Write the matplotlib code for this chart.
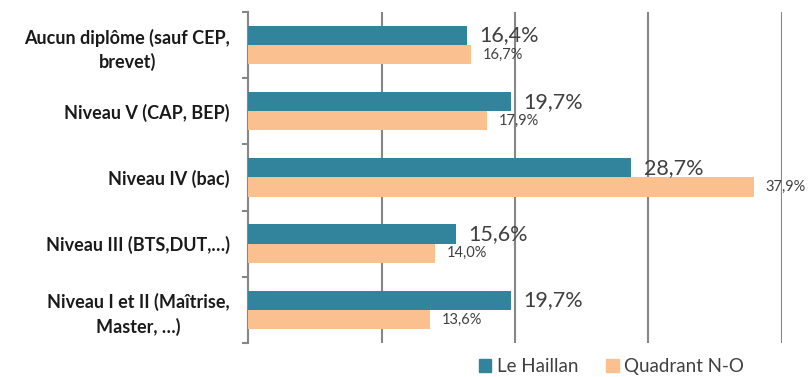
import numpy as np
import matplotlib
matplotlib.use("Agg")
import matplotlib.pyplot as plt
from matplotlib.patches import Patch

plt.rcParams["font.family"] = ["Lato", "DejaVu Sans"]

categories = [
    "Aucun diplôme (sauf CEP,\nbrevet)",
    "Niveau V (CAP, BEP)",
    "Niveau IV (bac)",
    "Niveau III (BTS,DUT,…)",
    "Niveau I et II (Maîtrise,\nMaster, …)",
]
le_haillan = [16.4, 19.7, 28.7, 15.6, 19.7]
quadrant_no = [16.7, 17.9, 37.9, 14.0, 13.6]
series_names = ["Le Haillan", "Quadrant N-O"]

teal = "#31849B"
peach = "#FAC090"
grey = "#868686"
text_col = "#404040"

fig = plt.figure(figsize=(8.09, 3.77), dpi=100)
ax = fig.add_axes([0.3066, 0.0902, 0.66, 0.878])

y = np.arange(len(categories))
h = 0.29
ax.barh(y - h / 2, le_haillan, height=h, color=teal, zorder=3)
ax.barh(y + h / 2, quadrant_no, height=h, color=peach, zorder=3)

def fmt(v):
    return f"{v:.1f}%".replace(".", ",")

for yi, v in zip(y, le_haillan):
    ax.annotate(fmt(v), (v, yi - h / 2), xytext=(9, 0), textcoords="offset points",
                va="center", ha="left", fontsize=15.5, color=text_col, zorder=4)
for yi, v in zip(y, quadrant_no):
    ax.annotate(fmt(v), (v, yi + h / 2), xytext=(8.5, 0), textcoords="offset points",
                va="center", ha="left", fontsize=10.5, color=text_col, zorder=4)

ax.set_xlim(0, 40)
ax.set_ylim(len(categories) - 0.5, -0.5)

ax.set_xticks([10, 20, 30, 40])
ax.tick_params(axis="x", length=0, labelbottom=False)
ax.grid(axis="x", color=grey, linewidth=1.5, zorder=0)

ax.set_yticks(y)
ax.set_yticklabels(categories, fontweight="bold", fontsize=13, color="#1a1a1a",
                   ha="right", multialignment="center", linespacing=1.45)
ax.tick_params(axis="y", which="major", length=0, pad=13)
ax.set_yticks(np.arange(-0.5, len(categories)), minor=True)
ax.tick_params(axis="y", which="minor", length=4, width=1.5, color=grey)

for side in ["top", "right", "bottom"]:
    ax.spines[side].set_visible(False)
ax.spines["left"].set_color(grey)
ax.spines["left"].set_linewidth(1.5)

handles = [Patch(color=teal), Patch(color=peach)]
fig.legend(handles, series_names, loc="center", bbox_to_anchor=(0.756, 0.027),
           ncol=2, frameon=False, fontsize=13.5, handlelength=0.65, handleheight=0.65,
           handletextpad=0.3, columnspacing=1.5, labelcolor=text_col,
           borderpad=0.1)

fig.savefig("out.png", dpi=100)
